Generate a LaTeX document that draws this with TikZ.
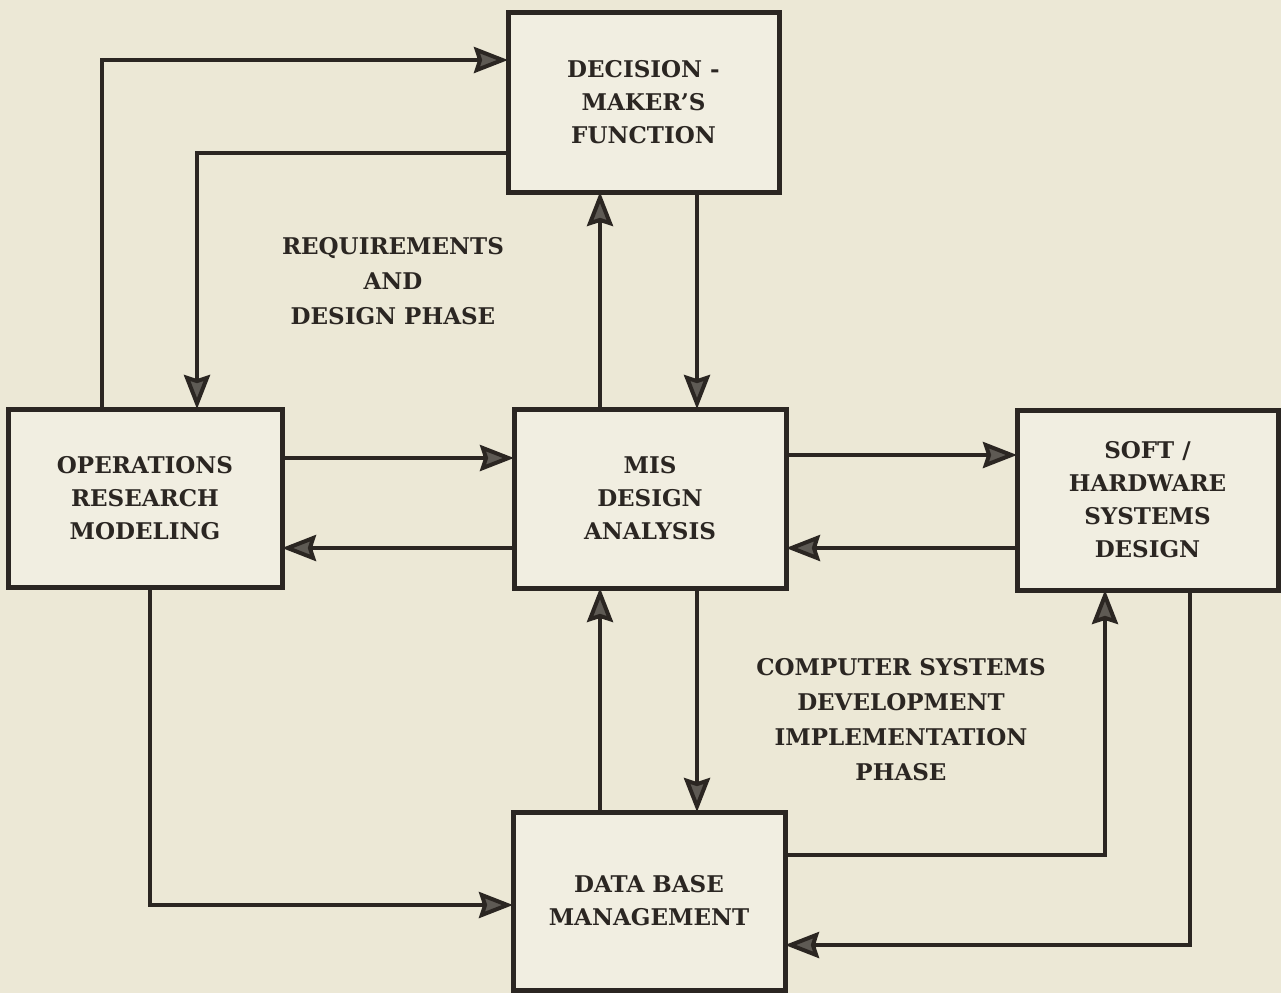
\documentclass[tikz,border=0pt]{standalone}
\usepackage{fontspec}
\setmainfont{DejaVu Serif}
\usepackage{tikz}
\usetikzlibrary{arrows.meta}
\pgfdeclarelayer{background}
\pgfdeclarelayer{foreground}
\pgfsetlayers{background,main,foreground}
\definecolor{paper}{HTML}{ECE8D6}
\definecolor{boxpaper}{HTML}{F1EEE1}
\definecolor{ink}{HTML}{2B2622}
\definecolor{tipgray}{HTML}{5E5A54}
\tikzset{
  blok/.style={draw=ink, line width=2.5pt, fill=boxpaper, inner sep=0pt, outer sep=0pt,
    align=center, text=ink, font=\fontsize{11.5}{16.5}\selectfont\bfseries},
  flow/.style={draw=ink, line width=2pt,
    -{Stealth[length=17pt,width=13pt,inset=2pt,fill=tipgray]}},
  phase/.style={align=center, text=ink, font=\fontsize{11.5}{17.5}\selectfont\bfseries}
}

\begin{document}
\begin{tikzpicture}[x=0.5pt,y=-0.5pt]
\useasboundingbox (0,0) rectangle (1281,993);
\begin{pgfonlayer}{foreground}
\node[blok, minimum width=135.5pt, minimum height=90pt] (dm) at (643.5,102) {DECISION -\\MAKER'S\\FUNCTION};
\node[blok, minimum width=137pt, minimum height=89pt] (orm) at (145,498) {OPERATIONS\\RESEARCH\\MODELING};
\node[blok, minimum width=136pt, minimum height=89.5pt] (mis) at (650,498.5) {MIS\\DESIGN\\ANALYSIS};
\node[blok, minimum width=130.5pt, minimum height=90pt] (sh) at (1147.5,500) {SOFT /\\HARDWARE\\SYSTEMS\\DESIGN};
\node[blok, minimum width=136pt, minimum height=89pt] (dbm) at (649,901) {DATA BASE\\MANAGEMENT};
\end{pgfonlayer}
\begin{pgfonlayer}{background}
\fill[paper] (0,0) rectangle (1281,993);
% requirements side
\draw[flow] (orm.north -| 102,0) |- (dm.west |- 0,60);
\draw[flow] (dm.west |- 0,153) -| (orm.north -| 197,0);
\draw[flow] (mis.north -| 600,0) -- (dm.south -| 600,0);
\draw[flow] (dm.south -| 697,0) -- (mis.north -| 697,0);
\draw[flow] (orm.east |- 0,458) -- (mis.west |- 0,458);
\draw[flow] (mis.west |- 0,548) -- (orm.east |- 0,548);
% development side
\draw[flow] (mis.east |- 0,455) -- (sh.west |- 0,455);
\draw[flow] (sh.west |- 0,548) -- (mis.east |- 0,548);
\draw[flow] (mis.south -| 697,0) -- (dbm.north -| 697,0);
\draw[flow] (dbm.north -| 600,0) -- (mis.south -| 600,0);
\draw[flow] (orm.south -| 150,0) |- (dbm.west |- 0,905);
\draw[flow] (dbm.east |- 0,855) -| (sh.south -| 1105,0);
\draw[flow] (sh.south -| 1190,0) |- (dbm.east |- 0,945);
\end{pgfonlayer}
\node[phase] (req) at (393,281) {REQUIREMENTS\\AND\\DESIGN PHASE};
\node[phase] (dev) at (901,720) {COMPUTER SYSTEMS\\DEVELOPMENT\\IMPLEMENTATION\\PHASE};
\end{tikzpicture}
\end{document}
